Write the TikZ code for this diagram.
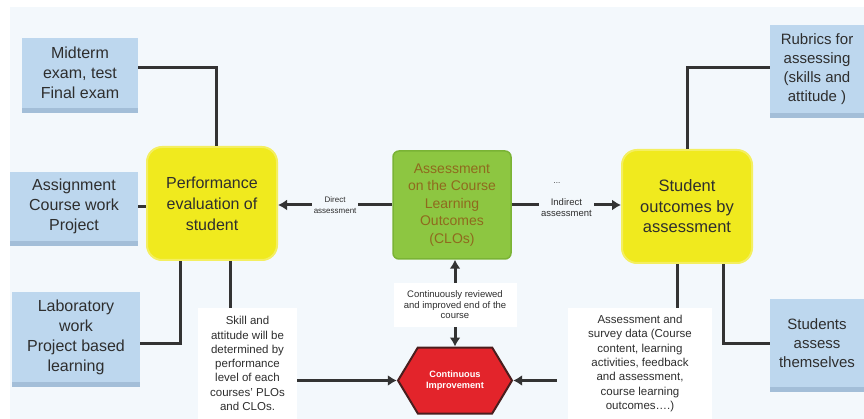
\documentclass[tikz,border=0pt]{standalone}
\usepackage{fontspec}
\setmainfont{Liberation Sans}
\usetikzlibrary{arrows.meta,shapes.symbols,shadows}
\definecolor{bgc}{HTML}{F3F8FC}
\definecolor{boxblue}{HTML}{BDD7EE}
\definecolor{shadowblue}{HTML}{A3BED8}
\definecolor{yel}{HTML}{F0EA1E}
\definecolor{yeledge}{HTML}{F4EF60}
\definecolor{grn}{HTML}{8DC641}
\definecolor{grnedge}{HTML}{7AB335}
\definecolor{grntxt}{HTML}{8F6A1E}
\definecolor{redc}{HTML}{E3242B}
\definecolor{rededge}{HTML}{4A1E1E}
\definecolor{linec}{HTML}{333333}
\definecolor{txt}{HTML}{2E2E2E}
\begin{document}
\begin{tikzpicture}[x=1pt,y=-1pt,
  bluebox/.style={fill=boxblue, inner sep=0pt, align=center, text=txt,
    font=\fontsize{16}{20}\selectfont,
    drop shadow={shadow xshift=0pt, shadow yshift=-5pt, fill=shadowblue, opacity=1}},
  ybox/.style={fill=yel, draw=yeledge, line width=2pt, rounded corners=15pt, inner sep=0pt,
    align=center, text=txt, font=\fontsize{16}{21}\selectfont,
    minimum width=130pt, minimum height=113pt},
  wbox/.style={fill=white, inner sep=0pt, align=center, text=txt,
    font=\fontsize{11.5}{14.3}\selectfont},
  conn/.style={draw=linec, line width=3pt},
  arr/.style={conn, -{Latex[length=9pt,width=11pt]}},
  lbl/.style={fill=bgc, inner sep=2pt, align=center, text=txt}
]
\fill[white] (0,0) rectangle (864,419);
\useasboundingbox (0,0) rectangle (864,419);
\fill[bgc] (10,7) rectangle (864,419);

% left boxes
\node[bluebox, minimum width=116pt, minimum height=70pt] (mid) at (80,73)
  {Midterm\\exam, test\\Final exam};
\node[bluebox, minimum width=128pt, minimum height=69pt] (assign) at (74,206.5)
  {Assignment\\Course work\\Project};
\node[bluebox, minimum width=128pt, minimum height=90pt] (lab) at (76,337)
  {Laboratory\\work\\Project based\\learning};

% right boxes
\node[bluebox, minimum width=94pt, minimum height=88pt, font=\fontsize{15}{19}\selectfont] (rub) at (817,69)
  {Rubrics for\\assessing\\(skills and\\attitude )};
\node[bluebox, minimum width=94pt, minimum height=88pt, font=\fontsize{15}{19}\selectfont] (selfa) at (817,343)
  {Students\\assess\\themselves};

% yellow boxes
\node[ybox] (perf) at (212,203.5) {Performance\\evaluation of\\student};
\node[ybox, font=\fontsize{16.5}{20.5}\selectfont] (stud) at (687,206.5) {Student\\outcomes by\\assessment};

% green box
\node[fill=grn, draw=grnedge, line width=1.5pt, rounded corners=6pt, inner sep=0pt,
  minimum width=118pt, minimum height=108pt, align=center, text=grntxt,
  font=\fontsize{14}{17.5}\selectfont] (clo) at (452,205)
  {Assessment\\on the Course\\Learning\\Outcomes\\(CLOs)};

% white boxes
\node[wbox, minimum width=99pt, minimum height=111pt] (skill) at (247.5,363.5)
  {Skill and\\attitude will be\\determined by\\performance\\level of each\\courses' PLOs\\and CLOs.};
\node[wbox, minimum width=144pt, minimum height=111pt] (survey) at (640,363.5)
  {Assessment and\\survey data (Course\\content, learning\\activities, feedback\\and assessment,\\course learning\\outcomes….)};
\node[wbox, minimum width=123pt, minimum height=44pt, font=\fontsize{9.5}{10.5}\selectfont] (rev) at (455,305)
  {Continuously reviewed\\and improved end of the\\course};

% hexagon
\node[signal, signal to=east and west, signal pointer angle=118,
  fill=redc, draw=rededge, line width=2pt, inner sep=0pt,
  minimum width=114pt, minimum height=66pt, align=center, text=white,
  font=\bfseries\fontsize{9.2}{11}\selectfont] (ci) at (455,380.5)
  {Continuous\\Improvement};

% dots
\node[text=txt, font=\fontsize{8}{8}\selectfont, inner sep=0pt] (dots) at (557,183) {...};

% connectors left
\draw[conn] ([yshift=5pt]mid.east) -| ([xshift=4pt]perf.north);
\draw[conn] (assign.east) -- (assign.east -| perf.west);
\draw[conn] ([yshift=-6pt]lab.east) -| ([xshift=-32pt]perf.south);
\draw[conn] ([xshift=18pt]perf.south) -- ([xshift=18pt]perf.south |- skill.north);

% connectors right
\draw[conn] ([yshift=1pt]rub.west) -| (stud.north);
\draw[conn] (selfa.west) -| ([xshift=36pt]stud.south);
\draw[conn] ([xshift=-10pt]stud.south) -- ([xshift=-10pt]stud.south |- survey.north);

% direct / indirect
\draw[arr] (clo.west) -- node[lbl, font=\fontsize{8}{11}\selectfont] {Direct\\assessment} (clo.west -| perf.east);
\draw[arr] (clo.east) -- node[lbl, font=\fontsize{9.5}{11}\selectfont, yshift=-3pt] {Indirect\\assessment} (clo.east -| stud.west);

% review arrows
\draw[arr] (rev.north) -- (rev.north |- clo.south);
\draw[arr] (rev.south) -- (rev.south |- ci.north);

% into hexagon
\draw[arr] (ci.west -| skill.east) -- (ci.west);
\draw[arr, shorten <=11pt] (ci.east -| survey.west) -- (ci.east);
\end{tikzpicture}
\end{document}
